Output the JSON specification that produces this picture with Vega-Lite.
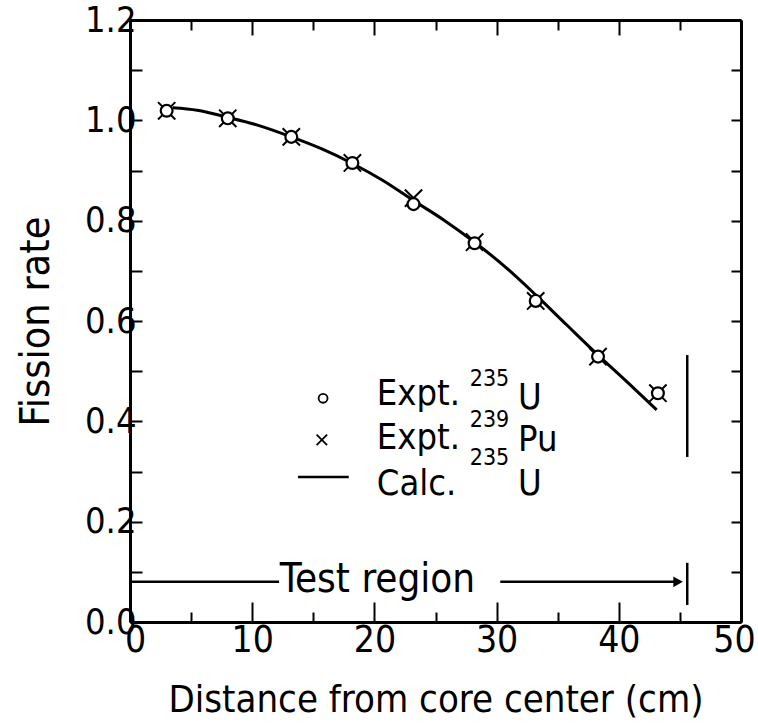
{
  "$schema": "https://vega.github.io/schema/vega-lite/v6.json",
  "width": 611,
  "height": 602,
  "autosize": "none",
  "padding": {"left": 130, "top": 20, "right": 17, "bottom": 106},
  "background": "white",
  "config": {
    "view": {"stroke": null},
    "font": "DejaVu Sans Condensed",
    "axis": {"grid": false, "domainColor": "black", "tickColor": "black", "labelColor": "black", "titleColor": "black", "domainWidth": 3, "tickWidth": 2, "labelFont": "DejaVu Sans Condensed", "titleFont": "DejaVu Sans Condensed", "titleFontWeight": "normal"}
  },
  "datasets": {
    "curve": [
      {"d": 3.5, "rate": 1.025}, {"d": 5.5, "rate": 1.02}, {"d": 8.0, "rate": 1.006}, {"d": 10.5, "rate": 0.99},
      {"d": 13.2, "rate": 0.967}, {"d": 15.7, "rate": 0.943}, {"d": 18.2, "rate": 0.914}, {"d": 20.7, "rate": 0.88},
      {"d": 23.2, "rate": 0.84}, {"d": 25.7, "rate": 0.801}, {"d": 28.2, "rate": 0.757}, {"d": 30.7, "rate": 0.708},
      {"d": 33.2, "rate": 0.652}, {"d": 35.7, "rate": 0.593}, {"d": 38.3, "rate": 0.532}, {"d": 40.7, "rate": 0.478},
      {"d": 43.1, "rate": 0.423}
    ],
    "u235": [
      {"d": 3.0, "rate": 1.019}, {"d": 8.0, "rate": 1.004}, {"d": 13.2, "rate": 0.967}, {"d": 18.2, "rate": 0.915},
      {"d": 23.2, "rate": 0.833}, {"d": 28.2, "rate": 0.755}, {"d": 33.2, "rate": 0.64}, {"d": 38.3, "rate": 0.529},
      {"d": 43.2, "rate": 0.456}
    ],
    "pu239": [
      {"d": 3.0, "rate": 1.019}, {"d": 8.0, "rate": 1.004}, {"d": 13.2, "rate": 0.967}, {"d": 18.2, "rate": 0.915},
      {"d": 23.2, "rate": 0.845}, {"d": 28.2, "rate": 0.757}, {"d": 33.2, "rate": 0.64}, {"d": 38.3, "rate": 0.529},
      {"d": 43.2, "rate": 0.456}
    ],
    "segments": [
      {"x1": 45.6, "x2": 45.6, "y1": 0.329, "y2": 0.532},
      {"x1": 45.6, "x2": 45.6, "y1": 0.034, "y2": 0.118},
      {"x1": 0, "x2": 12.2, "y1": 0.08, "y2": 0.08},
      {"x1": 30.3, "x2": 45.0, "y1": 0.08, "y2": 0.08},
      {"x1": 13.75, "x2": 17.9, "y1": 0.289, "y2": 0.289}
    ],
    "arrow": [{"d": 44.85, "rate": 0.08}],
    "legU": [{"d": 15.8, "rate": 0.446}],
    "legPu": [{"d": 15.7, "rate": 0.363}],
    "bigText": [
      {"d": 20.2, "rate": 0.454, "t": "Expt."},
      {"d": 31.75, "rate": 0.446, "t": "U"},
      {"d": 20.2, "rate": 0.367, "t": "Expt."},
      {"d": 31.75, "rate": 0.363, "t": "Pu"},
      {"d": 20.2, "rate": 0.275, "t": "Calc."},
      {"d": 31.75, "rate": 0.275, "t": "U"}
    ],
    "supText": [
      {"d": 27.8, "rate": 0.484, "t": "235"},
      {"d": 27.8, "rate": 0.403, "t": "239"},
      {"d": 27.8, "rate": 0.327, "t": "235"}
    ],
    "testText": [{"d": 20.25, "rate": 0.084, "t": "Test region"}]
  },
  "resolve": {"axis": {"x": "independent", "y": "independent"}},
  "layer": [
    {
      "data": {"name": "curve"},
      "mark": {"type": "line", "color": "black", "strokeWidth": 3, "interpolate": "monotone"},
      "encoding": {
        "x": {"field": "d", "type": "quantitative", "scale": {"domain": [0, 50], "nice": false},
          "axis": {"orient": "bottom", "values": [0, 5, 10, 15, 20, 25, 30, 35, 40, 45, 50],
            "labelExpr": "datum.value % 10 === 0 ? datum.label : ''",
            "tickSize": {"condition": {"test": "datum.value % 10 === 0", "value": -20}, "value": -10},
            "labelOffset": {"condition": [{"test": "datum.value === 50", "value": -7}, {"test": "datum.value === 0", "value": 5}], "value": 0},
            "labelFontSize": 37, "labelPadding": 20, "labelOverlap": false, "labelBound": false, "labelFlush": false,
            "title": "Distance  from core center (cm)", "titleFontSize": 38, "titlePadding": 13}},
        "y": {"field": "rate", "type": "quantitative", "scale": {"domain": [0, 1.2], "nice": false},
          "axis": {"orient": "left", "values": [0, 0.1, 0.2, 0.3, 0.4, 0.5, 0.6, 0.7, 0.8, 0.9, 1.0, 1.1, 1.2],
            "labelExpr": "round(datum.value * 10) % 2 === 0 ? format(datum.value, '.1f') : ''",
            "tickSize": -12, "labelFontSize": 36, "labelPadding": 6, "labelOverlap": false, "labelBound": false, "labelFlush": false,
            "title": "Fission rate", "titleFontSize": 41, "titlePadding": 27}}
      }
    },
    {
      "data": {"name": "pu239"},
      "mark": {"type": "point", "shape": "M-1,-1L1,1M-1,1L1,-1", "size": 300, "filled": false, "stroke": "black", "strokeWidth": 2, "opacity": 1},
      "encoding": {
        "x": {"field": "d", "type": "quantitative",
          "axis": {"orient": "top", "values": [0, 5, 10, 15, 20, 25, 30, 35, 40, 45, 50], "labels": false, "title": null,
            "tickSize": {"condition": {"test": "datum.value % 10 === 0", "value": -15}, "value": -10}}},
        "y": {"field": "rate", "type": "quantitative",
          "axis": {"orient": "right", "values": [0, 0.1, 0.2, 0.3, 0.4, 0.5, 0.6, 0.7, 0.8, 0.9, 1.0, 1.1, 1.2], "labels": false, "title": null, "tickSize": -10}}
      }
    },
    {
      "data": {"name": "u235"},
      "mark": {"type": "point", "shape": "circle", "size": 140, "filled": true, "fill": "white", "stroke": "black", "strokeWidth": 2.2, "opacity": 1},
      "encoding": {
        "x": {"field": "d", "type": "quantitative", "axis": null},
        "y": {"field": "rate", "type": "quantitative", "axis": null}
      }
    },
    {
      "data": {"name": "segments"},
      "mark": {"type": "rule", "color": "black", "strokeWidth": 2.5},
      "encoding": {
        "x": {"field": "x1", "type": "quantitative", "axis": null},
        "x2": {"field": "x2"},
        "y": {"field": "y1", "type": "quantitative", "axis": null},
        "y2": {"field": "y2"}
      }
    },
    {
      "data": {"name": "arrow"},
      "mark": {"type": "point", "shape": "triangle-right", "size": 120, "filled": true, "color": "black", "opacity": 1},
      "encoding": {
        "x": {"field": "d", "type": "quantitative", "axis": null},
        "y": {"field": "rate", "type": "quantitative", "axis": null}
      }
    },
    {
      "data": {"name": "legU"},
      "mark": {"type": "point", "shape": "circle", "size": 80, "filled": false, "stroke": "black", "strokeWidth": 1.8, "opacity": 1},
      "encoding": {
        "x": {"field": "d", "type": "quantitative", "axis": null},
        "y": {"field": "rate", "type": "quantitative", "axis": null}
      }
    },
    {
      "data": {"name": "legPu"},
      "mark": {"type": "point", "shape": "M-1,-1L1,1M-1,1L1,-1", "size": 110, "filled": false, "stroke": "black", "strokeWidth": 1.8, "opacity": 1},
      "encoding": {
        "x": {"field": "d", "type": "quantitative", "axis": null},
        "y": {"field": "rate", "type": "quantitative", "axis": null}
      }
    },
    {
      "data": {"name": "bigText"},
      "mark": {"type": "text", "align": "left", "baseline": "middle", "fontSize": 36, "color": "black"},
      "encoding": {
        "x": {"field": "d", "type": "quantitative", "axis": null},
        "y": {"field": "rate", "type": "quantitative", "axis": null},
        "text": {"field": "t"}
      }
    },
    {
      "data": {"name": "supText"},
      "mark": {"type": "text", "align": "left", "baseline": "middle", "fontSize": 23, "color": "black"},
      "encoding": {
        "x": {"field": "d", "type": "quantitative", "axis": null},
        "y": {"field": "rate", "type": "quantitative", "axis": null},
        "text": {"field": "t"}
      }
    },
    {
      "data": {"name": "testText"},
      "mark": {"type": "text", "align": "center", "baseline": "middle", "fontSize": 40, "color": "black"},
      "encoding": {
        "x": {"field": "d", "type": "quantitative", "axis": null},
        "y": {"field": "rate", "type": "quantitative", "axis": null},
        "text": {"field": "t"}
      }
    }
  ]
}
